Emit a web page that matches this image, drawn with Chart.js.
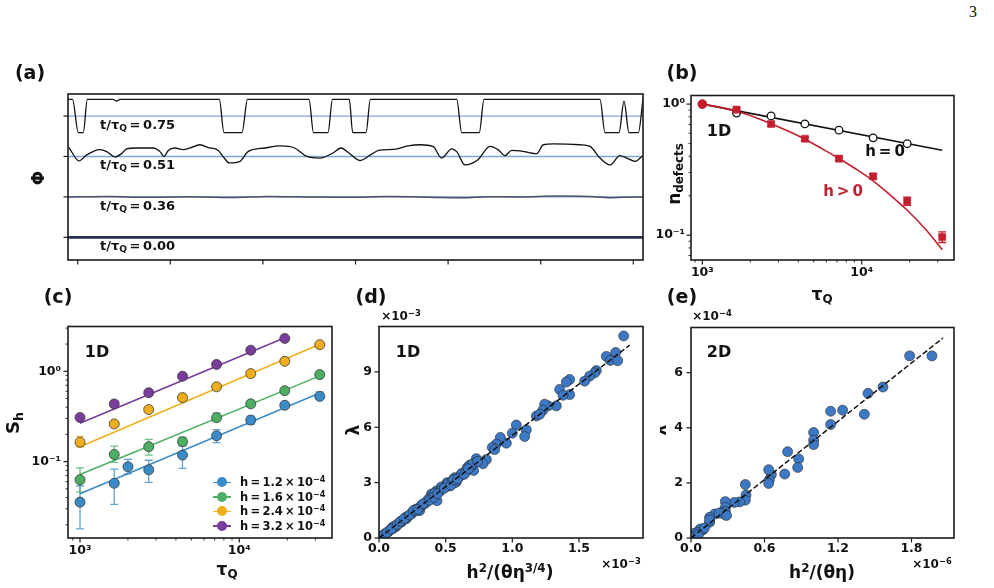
<!DOCTYPE html>
<html>
<head>
<meta charset="utf-8">
<script src="https://cdn.jsdelivr.net/npm/chart.js@4.4.0/dist/chart.umd.min.js"></script>
<style>
body { margin: 0; background: #fff; width: 994px; height: 588px; position: relative; overflow: hidden;
       font-family: "DejaVu Sans", sans-serif; font-weight: bold; color: #111; }
canvas { position: absolute; }
.t { position: absolute; white-space: nowrap; line-height: 1; transform: translate(-50%, -50%); }
.tl { position: absolute; white-space: nowrap; line-height: 1; transform: translate(0, -50%); }
.rot { transform: translate(-50%, -50%) rotate(-90deg); }
sub { font-size: 0.7em; vertical-align: -0.3em; line-height: 0; }
sup { font-size: 0.7em; vertical-align: 0.5em; line-height: 0; }
.lab { font-size: 19px; }
.leg { position: absolute; left: 210px; height: 12px; transform: translate(0, -50%); font-size: 11.5px; }
.leg .ln { position: absolute; left: 3px; top: 5.5px; width: 18px; height: 1.6px; }
.leg .mk { position: absolute; left: 7px; top: 1px; width: 10px; height: 10px; border-radius: 50%; }
.leg .tx { position: absolute; left: 30px; top: 0; white-space: nowrap; line-height: 12px; }
</style>
</head>
<body>
<canvas id="pa"></canvas>
<canvas id="pb"></canvas>
<canvas id="pc"></canvas>
<canvas id="pd"></canvas>
<canvas id="pe"></canvas>

<div class="t" style="left:973px;top:12px;font:normal 16px 'Liberation Serif',serif">3</div>
<div class="t lab" style="left:30px;top:72px">(a)</div>
<div class="t lab" style="left:682px;top:72px">(b)</div>
<div class="t lab" style="left:58px;top:296px">(c)</div>
<div class="t lab" style="left:371px;top:296px">(d)</div>
<div class="t lab" style="left:682px;top:296px">(e)</div>

<div class="t rot" style="left:38px;top:178px;font-size:17px">Φ</div>
<div id="phiLabels"></div>

<div class="t" style="left:719px;top:131px;font-size:16px">1D</div>
<div class="t" style="left:885px;top:151px;font-size:15px">h&thinsp;=&thinsp;0</div>
<div class="t" style="left:843px;top:191px;font-size:15px;color:#c41e2e">h&thinsp;&gt;&thinsp;0</div>
<div class="t rot" style="left:674px;top:174px;font-size:17px">n<sub>defects</sub></div>
<div class="t" style="left:822px;top:294px;font-size:17px">τ<sub>Q</sub></div>

<div class="t" style="left:97px;top:352px;font-size:16px">1D</div>
<div class="t rot" style="left:13px;top:423px;font-size:18px">S<sub>h</sub></div>
<div class="t" style="left:227px;top:569px;font-size:17px">τ<sub>Q</sub></div>
<div id="legendC"></div>

<div class="t" style="left:401px;top:316px;font-size:12px">×10<sup>−3</sup></div>
<div class="t" style="left:408px;top:352px;font-size:16px">1D</div>
<div class="t rot" style="left:353px;top:430px;font-size:17px">λ</div>
<div class="t" style="left:510px;top:572px;font-size:17px">h<sup>2</sup>/(θη<sup>3/4</sup>)</div>
<div class="t" style="left:621px;top:564px;font-size:12px">×10<sup>−3</sup></div>

<div class="t" style="left:712px;top:316px;font-size:12px">×10<sup>−4</sup></div>
<div class="t" style="left:719px;top:352px;font-size:16px">2D</div>
<div style="position:absolute;left:660px;top:415px;width:12px;height:30px;overflow:hidden">
  <div class="t rot" style="left:0px;top:15px;font-size:17px">λ</div>
</div>
<div class="t" style="left:822px;top:572px;font-size:17px">h<sup>2</sup>/(θη)</div>
<div class="t" style="left:932px;top:564px;font-size:12px">×10<sup>−6</sup></div>

<script>
// ---------- (a) field profiles, shifted by an offset per time ----------
const phiTimes = ['0.75', '0.51', '0.36', '0.00']
const phiOffsets = [3, 2, 1, 0]
const phiTicksX = [9.7, 102.3, 194.9, 287.5, 380.1, 472.7, 565.3]
const phi075 = [[0,0.41],[4.5,0.41],[10.3,-0.41],[15.3,-0.41],[19.3,0.41],[45,0.41],[48.7,0.37],[52,0.41],
  [151.3,0.41],[156,-0.41],[174,-0.41],[179.5,0.41],[241,0.41],[245.5,-0.41],[260,-0.41],[264.5,0.41],
  [281.3,0.41],[284.7,-0.41],[298,-0.41],[302.4,0.41],[388.7,0.41],[393.7,-0.41],[411.3,-0.41],[416,0.41],
  [532,0.41],[537,-0.41],[551,-0.41],[556,0.37],[561,-0.41],[570.3,-0.41],[575,0.41]]
const phi051 = [[1,0.22],[11,-0.11],[18.7,0.04],[32,0.17],[38.7,0.12],[47,-0.01],[53.7,0.07],[58.7,0.19],
  [68.7,0.21],[85.3,0.21],[92,0.12],[96,0.0],[100.3,0.15],[107,0.21],[115.3,0.17],[122,0.21],[132,0.29],
  [140.3,0.22],[150.3,0.15],[155.3,-0.01],[161.4,-0.16],[172,-0.12],[180,0.12],[197,0.21],[212,0.26],
  [226.6,0.21],[239,0.0],[252,-0.04],[264.5,0.08],[273,0.21],[281.3,0.08],[291.8,-0.10],[302.4,0.04],
  [310.8,0.15],[327.6,0.18],[340,0.26],[352,0.29],[365,0.25],[373.7,-0.04],[383.7,0.19],[388.7,0.12],
  [397,-0.21],[410,-0.08],[422,0.25],[430,0.17],[437,0.02],[443.7,0.15],[452,0.14],[468.7,0.07],
  [475.3,0.29],[485.3,0.31],[512,0.29],[522,0.25],[532,-0.04],[542,-0.21],[552,0.02],[558.7,-0.04],
  [567,-0.12],[574.7,0.02]]
const phi036 = [[0,0],[40,0.01],[80,-0.01],[120,0.005],[160,-0.015],[200,0.01],[240,0],[280,-0.01],
  [320,0.01],[352,0],[372,-0.015],[395,-0.02],[420,0.005],[450,0],[490,0.02],[530,0],[540,-0.02],[555,-0.01],[575,0]]
const phi000 = [[0,0],[575,0]]
const phiRefLevels = [3, 2, 1]

// ---------- (b) defect density vs quench time ----------
const tauH0 = [1000, 1640, 2700, 4400, 7200, 11800, 19300]
const nH0 = [1.0, 0.855, 0.812, 0.706, 0.633, 0.553, 0.499]
const fitH0Tau = [1000, 32000]
const fitH0N = [1.0, 0.445]
const tauH = [1000, 1640, 2700, 4400, 7200, 11800, 19300, 32000]
const nH = [1.0, 0.907, 0.706, 0.544, 0.384, 0.281, 0.182, 0.097]
const nHErr = [0, 0.02, 0.02, 0.015, 0.012, 0.012, 0.013, 0.009]
const fitHTau = [1000, 1300, 1640, 2100, 2700, 3500, 4400, 5600, 7200, 9200, 11800, 15000, 19300, 25000, 32000]
const fitHN = [1.0, 0.944, 0.881, 0.800, 0.708, 0.617, 0.540, 0.459, 0.385, 0.320, 0.260, 0.204, 0.155, 0.112, 0.0776]

// ---------- (c) S_h vs quench time for four fields ----------
const hLabels = ['1.2', '1.6', '2.4', '3.2']
const tauC = [1000, 1640, 2700, 4400, 7200, 11800, 19300, 32000]
const tauCBlue = [1000, 1640, 2000, 2700, 4400, 7200, 11800, 19300, 32000]
const sBlue = [0.0356, 0.0575, 0.0875, 0.081, 0.118, 0.193, 0.288, 0.42, 0.527]
const sBlueLo = [0.018, 0.0336, 0.073, 0.059, 0.084, 0.162, 0.258, 0.40, 0.49]
const sBlueHi = [0.054, 0.0826, 0.106, 0.1035, 0.15, 0.226, 0.318, 0.44, 0.59]
const sGreen = [0.063, 0.12, 0.146, 0.166, 0.306, 0.436, 0.609, 0.918]
const sGreenLo = [0.046, 0.098, 0.118, 0.15, 0.28, 0.415, 0.59, 0.9]
const sGreenHi = [0.085, 0.148, 0.176, 0.185, 0.345, 0.46, 0.63, 0.94]
const sOrange = [0.164, 0.261, 0.377, 0.511, 0.673, 0.942, 1.29, 1.97]
const sOrangeLo = [0.145, 0.25, 0.36, 0.49, 0.65, 0.92, 1.26, 1.93]
const sOrangeHi = [0.19, 0.275, 0.395, 0.55, 0.70, 0.965, 1.32, 2.01]
const sPurple = [0.308, 0.435, 0.579, 0.881, 1.19, 1.71, 2.31]
const sPurpleLo = [0.30, 0.41, 0.565, 0.86, 1.17, 1.68, 2.27]
const sPurpleHi = [0.318, 0.46, 0.595, 0.9, 1.21, 1.74, 2.35]
const fitTauC = [1000, 32000]
const fitTauPurple = [1000, 19300]
const fitBlue = [0.044, 0.574]
const fitGreen = [0.072, 0.889]
const fitOrange = [0.146, 1.99]
const fitPurple = [0.265, 2.35]

const minorLogX = [900, 2000, 3000, 4000, 5000, 6000, 7000, 8000, 9000, 20000, 30000]
const minorLogYb = [0.07, 0.08, 0.09, 0.2, 0.3, 0.4, 0.5, 0.6, 0.7, 0.8, 0.9]
const minorLogYc = [0.02, 0.03, 0.04, 0.05, 0.06, 0.07, 0.08, 0.09, 0.2, 0.3, 0.4, 0.5, 0.6, 0.7, 0.8, 0.9, 2, 3]

// ---------- (d) 1D collapse, units 1e-3 ----------
const dPts = [[1.835,10.95],[1.775,10.05],[1.705,9.84],[1.735,9.62],[1.79,9.6],[1.63,9.07],[1.6175,8.95],
  [1.58,8.77],[1.5425,8.5],[1.43,8.59],[1.405,8.45],[1.43,7.77],[1.355,8.05],[1.38,7.73],[1.33,7.16],
  [1.2675,7.16],[1.2425,7.25],[1.23,6.93],[1.18,6.61],[1.205,6.7],[1.03,6.12],[1.105,5.86],[1.0925,5.5],
  [1.0,5.68],[0.955,5.14],[0.91,5.45],[0.88,5.09],[0.85,4.91],[0.8675,4.79],[0.805,4.25],[0.78,4.02],
  [0.73,4.3],[0.7175,4.07],[0.71,3.66],[0.6925,3.89],[0.6675,3.71],[0.63,3.45],[0.5675,3.27],[0.58,3.04],
  [0.51,3.0],[0.53,2.82],[0.4675,2.77],[0.43,2.55],[0.4175,2.2],[0.435,2.02],[0.3925,2.38],[0.36,1.98],
  [0.33,1.8],[0.305,1.48],[0.28,1.57],[0.2425,1.3],[0.205,1.04],[0.1675,0.86],[0.13,0.63],[0.105,0.5],
  [0.0675,0.32],[0.03,0.14],[0.02,0.1],[0.05,0.25],[0.08,0.42],[0.1,0.58],[0.12,0.66],[0.15,0.8],
  [0.18,0.98],[0.2,1.12],[0.22,1.2],[0.25,1.4],[0.27,1.45],[0.3,1.62],[0.32,1.78],[0.35,1.9],[0.37,2.1],
  [0.4,2.3],[0.42,2.45],[0.45,2.5],[0.47,2.62],[0.5,2.8],[0.52,2.95],[0.55,3.1],[0.57,3.0],[0.6,3.3],
  [0.62,3.5],[0.65,3.6],[0.66,3.8],[0.68,3.95],[0.7,4.0],[0.74,4.15],[0.01,0.05],[0.04,0.2],[0.06,0.3],
  [0.09,0.48],[0.14,0.75],[0.16,0.9],[0.19,1.05],[0.23,1.25],[0.26,1.5],[0.29,1.55],[0.33,1.85],
  [0.38,2.05],[0.41,2.2],[0.44,2.4],[0.49,2.7],[0.54,2.85],[0.56,3.15],[0.59,3.2],[0.64,3.45],[0.67,3.75]]
const dFit = [[0, 0], [1.88, 10.45]]

// ---------- (e) 2D collapse, x in 1e-6, y in 1e-4 ----------
const ePts = [[1.967,6.61],[1.785,6.61],[1.567,5.48],[1.445,5.25],[1.415,4.49],[1.238,4.64],[1.14,4.6],
  [1.14,4.12],[1.001,3.83],[1.001,3.55],[1.001,3.39],[0.879,2.87],[0.871,2.56],[0.789,3.13],[0.765,2.32],
  [0.656,2.30],[0.634,2.48],[0.639,2.11],[0.634,1.98],[0.4435,1.94],[0.449,1.56],[0.4435,1.37],[0.397,1.31],
  [0.354,1.29],[0.28,1.32],[0.28,1.11],[0.28,0.96],[0.28,0.84],[0.245,0.92],[0.193,0.87],[0.152,0.75],
  [0.152,0.57],[0.152,0.65],[0.098,0.30],[0.082,0.27],[0.076,0.33],[0.054,0.18],[0.049,0.21],[0.027,0.10],
  [0.022,0.16],[0.011,0.04],[0.011,0.06],[0.06,0.12],[0.11,0.36],[0.23,0.9],[0.29,0.82]]
const eFit = [[0, 0], [2.057, 7.26]]

Chart.defaults.font.family = 'DejaVu Sans'
Chart.defaults.color = '#111'

const pts = (xs, ys) => xs.map((x, i) => ({x: x, y: ys[i]}))
const pairs = arr => arr.map(p => ({x: p[0], y: p[1]}))

// box + outward tick marks, like matplotlib spines
const framePlugin = {
    id: 'frame',
    afterDatasetsDraw(chart, args, opts) {
        const ctx = chart.ctx, a = chart.chartArea
        const sx = chart.scales.x, sy = chart.scales.y
        ctx.save()
        ctx.strokeStyle = '#1b1b1b'
        const mark = (sc, v, len, w) => {
            const p = sc.getPixelForValue(v)
            ctx.lineWidth = w
            ctx.beginPath()
            if (sc.axis === 'x') {
                if (p < a.left - 0.5 || p > a.right + 0.5) return
                ctx.moveTo(p, a.bottom); ctx.lineTo(p, a.bottom + len)
            } else {
                if (p < a.top - 0.5 || p > a.bottom + 0.5) return
                ctx.moveTo(a.left, p); ctx.lineTo(a.left - len, p)
            }
            ctx.stroke()
        }
        sx.ticks.forEach(t => mark(sx, t.value, 4.5, 1.2))
        sy.ticks.forEach(t => mark(sy, t.value, 4.5, 1.2))
        ;(opts.minorX || []).forEach(v => mark(sx, v, 2.5, 0.9))
        ;(opts.minorY || []).forEach(v => mark(sy, v, 2.5, 0.9))
        ctx.lineWidth = 1.6
        ctx.strokeRect(a.left, a.top, a.right - a.left, a.bottom - a.top)
        ctx.restore()
    }
}

// vertical error bars with caps, under the markers
const errPlugin = {
    id: 'errbars',
    beforeDatasetsDraw(chart) {
        const ctx = chart.ctx, sx = chart.scales.x, sy = chart.scales.y
        chart.data.datasets.forEach(ds => {
            if (!ds.errLo) return
            ctx.save()
            ctx.strokeStyle = ds.errColor
            ctx.lineWidth = 1.3
            ds.data.forEach((p, i) => {
                const x = sx.getPixelForValue(p.x)
                const y0 = sy.getPixelForValue(ds.errLo[i]), y1 = sy.getPixelForValue(ds.errHi[i])
                ctx.beginPath()
                ctx.moveTo(x, y0); ctx.lineTo(x, y1)
                ctx.moveTo(x - ds.cap, y0); ctx.lineTo(x + ds.cap, y0)
                ctx.moveTo(x - ds.cap, y1); ctx.lineTo(x + ds.cap, y1)
                ctx.stroke()
            })
            ctx.restore()
        })
    }
}

function axis(o, dir, size) {
    return {
        type: o.type || 'linear', min: o.min, max: o.max,
        grid: {display: false, drawTicks: false},
        border: {display: false},
        afterBuildTicks: s => { s.ticks = o.ticks.map(v => ({value: v})) },
        afterFit: s => { if (dir === 'x') s.height = size; else s.width = size },
        ticks: {
            display: !!o.labels, padding: o.pad || 0, maxRotation: 0, minRotation: 0, autoSkip: false,
            color: '#111', font: {family: 'DejaVu Sans', weight: 'bold', size: 12.5},
            callback: (v, i) => o.labels ? o.labels[i] : ''
        }
    }
}

function makePanel(id, box, xo, yo, datasets, frame) {
    const L = 72, T = 12, R = 22, B = 40
    const cv = document.getElementById(id)
    cv.width = box.r - box.l + L + R
    cv.height = box.b - box.t + T + B
    cv.style.left = (box.l - L) + 'px'
    cv.style.top = (box.t - T) + 'px'
    const chart = new Chart(cv, {
        type: 'scatter',
        data: {datasets: datasets},
        options: {
            responsive: false, animation: false, events: [],
            layout: {padding: {left: 0, top: T, right: R, bottom: 0}},
            plugins: {legend: {display: false}, tooltip: {enabled: false}, frame: frame || {}},
            scales: {x: axis(xo, 'x', B), y: axis(yo, 'y', L)}
        },
        plugins: [framePlugin, errPlugin]
    })
    chart.top0 = box.t - T
    return chart
}

function lineSet(data, color, width, extra) {
    return Object.assign({data: data, showLine: true, borderColor: color, borderWidth: width,
        pointRadius: 0, fill: false}, extra || {})
}

// ---------- panel (a) ----------
const boxA = {l: 68, t: 94, r: 643, b: 260}
const phiCurves = [phi075, phi051, phi036, phi000]
const phiColors = ['#111', '#111', '#4a5262', '#22324f']
const phiWidths = [1.3, 1.3, 1.5, 2.6]
const aSets = []
phiCurves.forEach((c, k) => {
    aSets.push(lineSet(c.map(p => ({x: p[0], y: p[1] + phiOffsets[k]})), phiColors[k], phiWidths[k],
        {cubicInterpolationMode: 'monotone'}))
})
phiRefLevels.forEach(lv => aSets.push(lineSet(pts([0, 575], [lv, lv]), '#7ea6dc', 1.3)))
const chartA = makePanel('pa', boxA,
    {min: 0, max: 575, ticks: phiTicksX},
    {min: -0.56, max: 3.545, ticks: [0, 1, 2, 3]},
    aSets)
phiTimes.forEach((t, k) => {
    const d = document.createElement('div')
    d.className = 'tl'
    d.style.left = '100px'
    d.style.fontSize = '13px'
    d.style.top = (chartA.top0 + chartA.scales.y.getPixelForValue(phiOffsets[k]) + 8) + 'px'
    d.innerHTML = 't/τ<sub>Q</sub>&thinsp;=&thinsp;' + t
    document.getElementById('phiLabels').appendChild(d)
})

// ---------- panel (b) ----------
const boxB = {l: 691, t: 94, r: 954, b: 260}
const red = '#c41e2e'
makePanel('pb', boxB,
    {type: 'logarithmic', min: 849, max: 37950, ticks: [1000, 10000], labels: ['10³', '10⁴'], pad: 5},
    {type: 'logarithmic', min: 0.0647, max: 1.163, ticks: [0.1, 1], labels: ['10⁻¹', '10⁰'], pad: 6},
    [
        {data: pts(tauH, nH), pointStyle: tauH.map((t, i) => i === 0 ? 'circle' : 'rect'),
         pointRadius: tauH.map((t, i) => i === 0 ? 4.5 : 5), backgroundColor: red, borderColor: red,
         pointBorderWidth: 0.5, errLo: nH.map((v, i) => v - nHErr[i]), errHi: nH.map((v, i) => v + nHErr[i]),
         errColor: red, cap: 4},
        {data: pts(tauH0, nH0), pointRadius: 3.8, backgroundColor: '#fff', borderColor: '#111', pointBorderWidth: 1.3},
        lineSet(pts(fitHTau, fitHN), red, 1.6, {cubicInterpolationMode: 'monotone'}),
        lineSet(pts(fitH0Tau, fitH0N), '#111', 1.6)
    ],
    {minorX: minorLogX, minorY: minorLogYb})

// ---------- panel (c) ----------
const boxC = {l: 68, t: 324, r: 332, b: 538}
const hColors = ['#3a8cc8', '#4caf64', '#f0ae1e', '#7a3c9b']
const cTau = [tauCBlue, tauC, tauC, tauC.slice(0, 7)]
const cS = [sBlue, sGreen, sOrange, sPurple]
const cLo = [sBlueLo, sGreenLo, sOrangeLo, sPurpleLo]
const cHi = [sBlueHi, sGreenHi, sOrangeHi, sPurpleHi]
const cFit = [fitBlue, fitGreen, fitOrange, fitPurple]
const cFitTau = [fitTauC, fitTauC, fitTauC, fitTauPurple]
const cMarks = [], cLines = []
hColors.forEach((col, k) => {
    cMarks.push({data: pts(cTau[k], cS[k]), pointRadius: 5, backgroundColor: col, borderColor: '#3a3a3a',
        pointBorderWidth: 0.8, errLo: cLo[k], errHi: cHi[k], errColor: col + 'cc', cap: 4})
    cLines.push(lineSet(pts(cFitTau[k], cFit[k]), col, 1.6))
})
makePanel('pc', boxC,
    {type: 'logarithmic', min: 840.6, max: 38190, ticks: [1000, 10000], labels: ['10³', '10⁴'], pad: 5},
    {type: 'logarithmic', min: 0.01426, max: 3.13, ticks: [0.1, 1], labels: ['10⁻¹', '10⁰'], pad: 7},
    cMarks.concat(cLines),
    {minorX: minorLogX, minorY: minorLogYc})

const legendRows = [482, 496.5, 511, 525.5]
hLabels.forEach((h, k) => {
    const row = document.createElement('div')
    row.className = 'leg'
    row.style.top = legendRows[k] + 'px'
    row.innerHTML = '<div class="ln" style="background:' + hColors[k] + '"></div>' +
        '<div class="mk" style="background:' + hColors[k] + '"></div>' +
        '<div class="tx">h&thinsp;=&thinsp;' + h + '&thinsp;×&thinsp;10<sup>−4</sup></div>'
    document.getElementById('legendC').appendChild(row)
})

// ---------- panels (d) and (e) ----------
const dotBlue = '#3c78c3'
const boxD = {l: 379, t: 324, r: 643, b: 538}
makePanel('pd', boxD,
    {min: 0, max: 1.98, ticks: [0, 0.5, 1, 1.5], labels: ['0.0', '0.5', '1.0', '1.5'], pad: 3},
    {min: 0, max: 11.46, ticks: [0, 3, 6, 9], labels: ['0', '3', '6', '9'], pad: 7},
    [
        lineSet(pairs(dFit), '#111', 1.5, {borderDash: [5.5, 2.5]}),
        {data: pairs(dPts), pointRadius: 5, backgroundColor: dotBlue, borderColor: '#2a2a2a', pointBorderWidth: 0.6}
    ])

const boxE = {l: 691, t: 324, r: 954, b: 538}
makePanel('pe', boxE,
    {min: 0, max: 2.147, ticks: [0, 0.6, 1.2, 1.8], labels: ['0.0', '0.6', '1.2', '1.8'], pad: 3},
    {min: 0, max: 7.64, ticks: [0, 2, 4, 6], labels: ['0', '2', '4', '6'], pad: 8},
    [
        lineSet(pairs(eFit), '#111', 1.5, {borderDash: [5.5, 2.5]}),
        {data: pairs(ePts), pointRadius: 5, backgroundColor: dotBlue, borderColor: '#2a2a2a', pointBorderWidth: 0.6}
    ])
</script>
</body>
</html>
